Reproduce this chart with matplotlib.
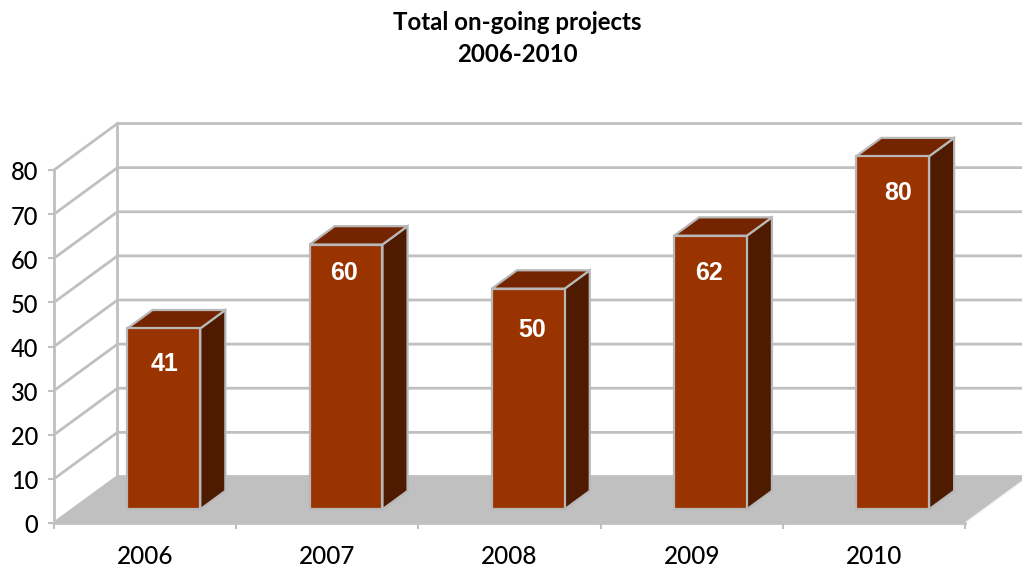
import matplotlib
matplotlib.use('Agg')
import matplotlib.pyplot as plt
from matplotlib.patches import Polygon
from matplotlib.transforms import ScaledTranslation

years = ['2006', '2007', '2008', '2009', '2010']
projects = [41, 60, 50, 62, 80]
y_ticks = [0, 10, 20, 30, 40, 50, 60, 70, 80]
label_shift = [(1, -36), (-2, -28), (4, -41), (-1, -37), (5, -37)]  # px from top centre of bar

GREY = '#C0C0C0'
FRONT = '#993300'
TOP = '#742500'
SIDE = '#4F1B00'
BAR_EDGE = '#B8B8B8'

W, H = 1022, 567
fig = plt.figure(figsize=(W / 100, H / 100), dpi=100)
ax = fig.add_axes([54 / W, 1 - 523 / H, (965 - 54) / W, (523 - 170) / H])
ax.set_xlim(0, 5)
ax.set_ylim(0, 80)
ax.patch.set_visible(False)

# oblique projection, depth 1 = back wall
DX = 0.3485
DY = 10.54


def proj(x, v, d):
    return (x + d * DX, v + d * DY)


# floor
ax.add_patch(Polygon([proj(0, 0, 0), proj(5, 0, 0), proj(5, 0, 1), proj(0, 0, 1)],
                     fc=GREY, ec='none', clip_on=False, zorder=1))
# white rim on right edge of the floor
ex, ey = zip(proj(5, 0, 0), proj(5, 0, 1))
ax.plot(ex, ey, color='#F2F2F2', lw=1.0, clip_on=False, zorder=1.5)

# walls
for v in y_ticks:
    xs, ys = zip(proj(0, v, 0), proj(0, v, 1), proj(5, v, 1))
    ax.plot(xs, ys, color=GREY, lw=2.0, clip_on=False, zorder=2, solid_joinstyle='miter')
xs, ys = zip(proj(0, 0, 1), proj(0, 80, 1))
ax.plot(xs, ys, color=GREY, lw=2.0, clip_on=False, zorder=2)

# bars
bar_w = 0.40
d0 = 0.295
d1 = 0.69
for i, val in enumerate(projects):
    x0 = i + 0.5 - bar_w / 2
    x1 = i + 0.5 + bar_w / 2
    top = [proj(x0, val, d0), proj(x1, val, d0), proj(x1, val, d1), proj(x0, val, d1)]
    side = [proj(x1, 0, d0), proj(x1, 0, d1), proj(x1, val, d1), proj(x1, val, d0)]
    front = [proj(x0, 0, d0), proj(x1, 0, d0), proj(x1, val, d0), proj(x0, val, d0)]
    ax.add_patch(Polygon(side, fc=SIDE, ec=BAR_EDGE, lw=1.6, clip_on=False, zorder=3))
    ax.add_patch(Polygon(top, fc=TOP, ec=BAR_EDGE, lw=1.6, clip_on=False, zorder=3))
    ax.add_patch(Polygon(front, fc=FRONT, ec=BAR_EDGE, lw=1.6, clip_on=False, zorder=4))
    cx, cy = proj(i + 0.5, val, d0)
    sx, sy = label_shift[i]
    ax.annotate(str(val), (cx, cy), xytext=(sx * 0.72, sy * 0.72), textcoords='offset points',
                ha='center', va='center', color='white', fontsize=18, fontweight='bold',
                family='Liberation Sans', zorder=5, annotation_clip=False)

# axes
for s in ['top', 'right']:
    ax.spines[s].set_visible(False)
for s in ['left', 'bottom']:
    ax.spines[s].set_color(GREY)
    ax.spines[s].set_linewidth(2.0)
ax.set_yticks(y_ticks)
ax.set_xticks(range(6))
ax.set_xticklabels([])
ax.set_xticks([i + 0.5 for i in range(5)], minor=True)
ax.set_xticklabels(years, minor=True, family='Lato', fontweight='medium', fontsize=17.5, color='black')
ax.tick_params(axis='x', which='major', length=4.5, width=1.5, color=GREY)
ax.tick_params(axis='x', which='minor', length=0, pad=16)
ax.tick_params(axis='y', length=4.5, width=1.5, color=GREY, pad=7, labelsize=17, labelcolor='black')
down = ScaledTranslation(0, -0.7 / 72, fig.dpi_scale_trans)
for lab in ax.get_yticklabels():
    lab.set_family('Lato')
    lab.set_fontweight('medium')
    lab.set_transform(lab.get_transform() + down)

fig.text(517 / W, 1 - 23 / H, 'Total on-going projects', ha='center', va='center',
         family='Lato', fontweight='bold', fontsize=17.3, color='black')
fig.text(517 / W, 1 - 55 / H, '2006-2010', ha='center', va='center',
         family='Lato', fontweight='bold', fontsize=17.3, color='black')

fig.savefig('out.png', dpi=100)
